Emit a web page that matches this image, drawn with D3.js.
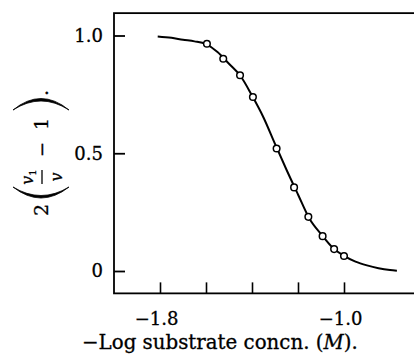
<!DOCTYPE html>
<html>
<head>
<meta charset="utf-8">
<script src="https://cdn.jsdelivr.net/npm/d3@7"></script>
<style>
  body { margin: 0; background: #fff; }
  svg { display: block; }
  text { font-family: "DejaVu Serif", serif; fill: #000; stroke: #000; stroke-width: 0.3; }
</style>
</head>
<body>
<div id="chart"></div>
<script>
// measured points (open circles)
const pointX = [-1.596, -1.525, -1.452, -1.396, -1.293, -1.217, -1.155, -1.093, -1.043, -1.000];
const pointY = [0.965, 0.901, 0.831, 0.739, 0.520, 0.355, 0.230, 0.148, 0.093, 0.064];

// fitted curve
const curveX = [-1.81, -1.75, -1.70, -1.65, -1.60, -1.55, -1.50, -1.45, -1.40, -1.35, -1.30,
                -1.25, -1.20, -1.15, -1.10, -1.05, -1.00, -0.95, -0.90, -0.85, -0.80, -0.77];
const curveY = [0.996, 0.990, 0.982, 0.975, 0.963, 0.930, 0.880, 0.828, 0.745, 0.652, 0.540,
                0.430, 0.325, 0.222, 0.157, 0.100, 0.064, 0.040, 0.024, 0.012, 0.004, 0.001];

const xTicks = [-1.8, -1.6, -1.4, -1.2, -1.0];
const xTickLabels = ["\u22121.8", "", "", "", "\u22121.0"];
const yTicks = [0, 0.5, 1.0];
const yTickLabels = ["0", "0.5", "1.0"];

const width = 414, height = 358;

const svg = d3.select('#chart')
  .append('svg')
  .attr('width', width)
  .attr('height', height);

const x = d3.scaleLinear()
  .domain([-1.8, -1.0])
  .range([160, 344]);

const y = d3.scaleLinear()
  .domain([0, 1])
  .range([271, 35.5]);

// frame: left, top and bottom edges (right edge falls outside the picture)
const fx0 = x(-2.0), fx1 = x(-0.6);
const fyTop = y(1.095), fyBot = y(-0.095);

svg.append('rect')
  .attr('x', fx0)
  .attr('y', fyTop)
  .attr('width', fx1 - fx0)
  .attr('height', fyBot - fyTop)
  .style('fill', 'none')
  .style('stroke', '#000')
  .style('stroke-width', 1.8);

//x-axis
const xAxis = svg.append('g')
  .attr('transform', `translate(0, ${fyBot})`)
  .call(d3.axisBottom(x)
    .tickValues(xTicks)
    .tickSize(-11)
    .tickPadding(19)
    .tickFormat((d, i) => xTickLabels[i]));

xAxis.select('.domain').remove();
xAxis.selectAll('line').style('stroke', '#000').style('stroke-width', 1.6);
xAxis.selectAll('text')
  .attr('dx', -4)
  .style('font-family', '"DejaVu Serif", serif')
  .style('font-size', '18px');

//y-axis
const yAxis = svg.append('g')
  .attr('transform', `translate(${fx0}, 0)`)
  .call(d3.axisLeft(y)
    .tickValues(yTicks)
    .tickSize(-11)
    .tickPadding(11)
    .tickFormat((d, i) => yTickLabels[i]));

yAxis.select('.domain').remove();
yAxis.selectAll('line').style('stroke', '#000').style('stroke-width', 1.8);
yAxis.selectAll('text')
  .style('font-family', '"DejaVu Serif", serif')
  .style('font-size', '18px');

//curve
const curveData = curveX.map((d, i) => ({ x: d, y: curveY[i] }));
const line = d3.line()
  .x(d => x(d.x))
  .y(d => y(d.y))
  .curve(d3.curveMonotoneX);

svg.append('path')
  .datum(curveData)
  .attr('d', line)
  .style('fill', 'none')
  .style('stroke', '#000')
  .style('stroke-width', 2);

//points
const pointData = pointX.map((d, i) => ({ x: d, y: pointY[i] }));
svg.append('g')
  .selectAll('circle')
  .data(pointData)
  .enter()
  .append('circle')
  .attr('cx', d => x(d.x))
  .attr('cy', d => y(d.y))
  .attr('r', 3.3)
  .style('fill', '#fff')
  .style('stroke', '#000')
  .style('stroke-width', 1.5);

//x title
const title = svg.append('text')
  .attr('x', 82)
  .attr('y', 349)
  .style('font-size', '18px');
title.append('tspan').text('\u2212Log substrate concn. (');
title.append('tspan').style('font-style', 'italic').text('M');
title.append('tspan').text(').');
const tw = title.node().getComputedTextLength();
title.style('font-size', (18 * 276 / tw).toFixed(2) + 'px');

//y title: 2(v1/v - 1). rotated
const yl = svg.append('g')
  .attr('transform', `translate(41, 153) rotate(-90)`);

yl.append('text')
  .attr('x', -57).attr('y', 7)
  .attr('text-anchor', 'middle')
  .style('font-size', '19px')
  .text('2');

// big parentheses as thin crescents
yl.append('path')
  .attr('d', 'M-34,-28 Q-56,0 -34,28 Q-51,0 -34,-28 Z')
  .style('fill', '#000')
  .style('stroke', '#000')
  .style('stroke-width', 0.8);
yl.append('path')
  .attr('d', 'M43,-28 Q66,0 43,28 Q61,0 43,-28 Z')
  .style('fill', '#000')
  .style('stroke', '#000')
  .style('stroke-width', 0.8);

// fraction v1 / v
const num = yl.append('text')
  .attr('x', -24).attr('y', -8)
  .attr('text-anchor', 'middle')
  .style('font-size', '16px');
num.append('tspan').style('font-style', 'italic').text('v');
num.append('tspan').attr('dy', 3).style('font-size', '10px').text('1');

yl.append('line')
  .attr('x1', -31).attr('x2', -17)
  .attr('y1', 1).attr('y2', 1)
  .style('stroke', '#000')
  .style('stroke-width', 1.3);

yl.append('text')
  .attr('x', -24).attr('y', 21)
  .attr('text-anchor', 'middle')
  .style('font-size', '16px')
  .style('font-style', 'italic')
  .text('v');

yl.append('text')
  .attr('x', 3.5).attr('y', 7)
  .attr('text-anchor', 'middle')
  .style('font-size', '18px')
  .text('\u2212');

yl.append('text')
  .attr('x', 29).attr('y', 7)
  .attr('text-anchor', 'middle')
  .style('font-size', '19px')
  .text('1');

yl.append('text')
  .attr('x', 60).attr('y', 7)
  .attr('text-anchor', 'middle')
  .style('font-size', '19px')
  .text('.');
</script>
</body>
</html>
